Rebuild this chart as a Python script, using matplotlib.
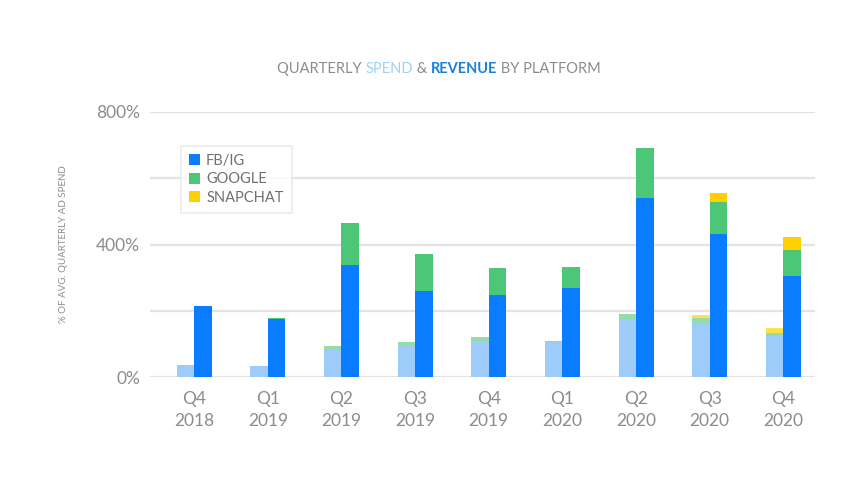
import numpy as np
import matplotlib
matplotlib.use("Agg")
import matplotlib.pyplot as plt
from matplotlib.offsetbox import TextArea, HPacker, AnnotationBbox

plt.rcParams['font.family'] = ['Lato', 'DejaVu Sans']

quarters = ["Q4\n2018", "Q1\n2019", "Q2\n2019", "Q3\n2019", "Q4\n2019",
            "Q1\n2020", "Q2\n2020", "Q3\n2020", "Q4\n2020"]
# revenue (dark) stacks
rev_fb = [213, 174, 337, 260, 248, 268, 540, 431, 306]
rev_google = [0, 5, 129, 112, 80, 63, 150, 97, 77]
rev_snap = [0, 0, 0, 0, 0, 0, 0, 27, 40]
# spend (light) stacks
spend_fb = [36, 33, 83, 93, 110, 105, 174, 164, 123]
spend_google = [0, 0, 10, 13, 10, 3, 17, 13, 11]
spend_snap = [0, 0, 0, 0, 0, 0, 0, 10, 15]

fb_c, google_c, snap_c = "#0a7cff", "#4cc677", "#ffd000"
fb_l, google_l, snap_l = "#9dcbfa", "#94dcaa", "#ffe24a"
grey = "#8c8c8c"

fig = plt.figure(figsize=(8.66, 4.91), dpi=100)
ax = fig.add_axes([150 / 866, 1 - 377 / 491, 665 / 866, 265 / 491])

x = np.arange(len(quarters))
w = 0.238

s_fb, s_g, s_s = np.array(spend_fb), np.array(spend_google), np.array(spend_snap)
ax.bar(x - w / 2, s_fb, w, color=fb_l, zorder=3)
ax.bar(x - w / 2, s_g, w, bottom=s_fb, color=google_l, zorder=3)
ax.bar(x - w / 2, s_s, w, bottom=s_fb + s_g, color=snap_l, zorder=3)

r_fb, r_g, r_s = np.array(rev_fb), np.array(rev_google), np.array(rev_snap)
ax.bar(x + w / 2, r_fb, w, color=fb_c, zorder=3, label="FB/IG")
ax.bar(x + w / 2, r_g, w, bottom=r_fb, color=google_c, zorder=3, label="GOOGLE")
ax.bar(x + w / 2, r_s, w, bottom=r_fb + r_g, color=snap_c, zorder=3, label="SNAPCHAT")

ax.set_xlim(-0.6, 8.43)
ax.set_ylim(0, 800)
ax.set_yticks([0, 200, 400, 600, 800])
ax.set_yticklabels(["0%", "", "400%", "", "800%"])
ax.set_xticks(x)
ax.set_xticklabels(quarters, linespacing=1.5)
ax.tick_params(length=0, colors=grey, labelsize=12.5)
ax.tick_params(axis="y", pad=7)
ax.tick_params(axis="x", pad=10)
ax.grid(axis="y", color="#e3e3e3", linewidth=1.6, zorder=0)
for s in ax.spines.values():
    s.set_visible(False)

ax.set_ylabel("% OF AVG. QUARTERLY AD SPEND", fontsize=7, color=grey, labelpad=20)

leg = ax.legend(loc="upper left", bbox_to_anchor=(0.035, 0.9), fontsize=10.5,
                handlelength=0.8, handleheight=0.8, handletextpad=0.4,
                labelspacing=0.3, frameon=True, fancybox=False,
                borderpad=0.55)
leg.get_frame().set_edgecolor("#e6e6e6")
leg.get_frame().set_linewidth(1.2)
for t in leg.get_texts():
    t.set_color("#707070")

parts = [("QUARTERLY ", grey, "normal"), ("SPEND", "#9fd0f5", "normal"),
         (" & ", grey, "normal"), ("REVENUE", "#1a80d9", "bold"),
         (" BY PLATFORM", grey, "normal")]
boxes = [TextArea(t, textprops=dict(color=c, fontsize=10.5, fontweight=fw))
         for t, c, fw in parts]
title = HPacker(children=boxes, align="baseline", pad=0, sep=0)
ab = AnnotationBbox(title, (439 / 866, 1 - 69 / 491), xycoords="figure fraction",
                    frameon=False, box_alignment=(0.5, 0.5))
fig.add_artist(ab)

fig.savefig("out.png", dpi=100)
